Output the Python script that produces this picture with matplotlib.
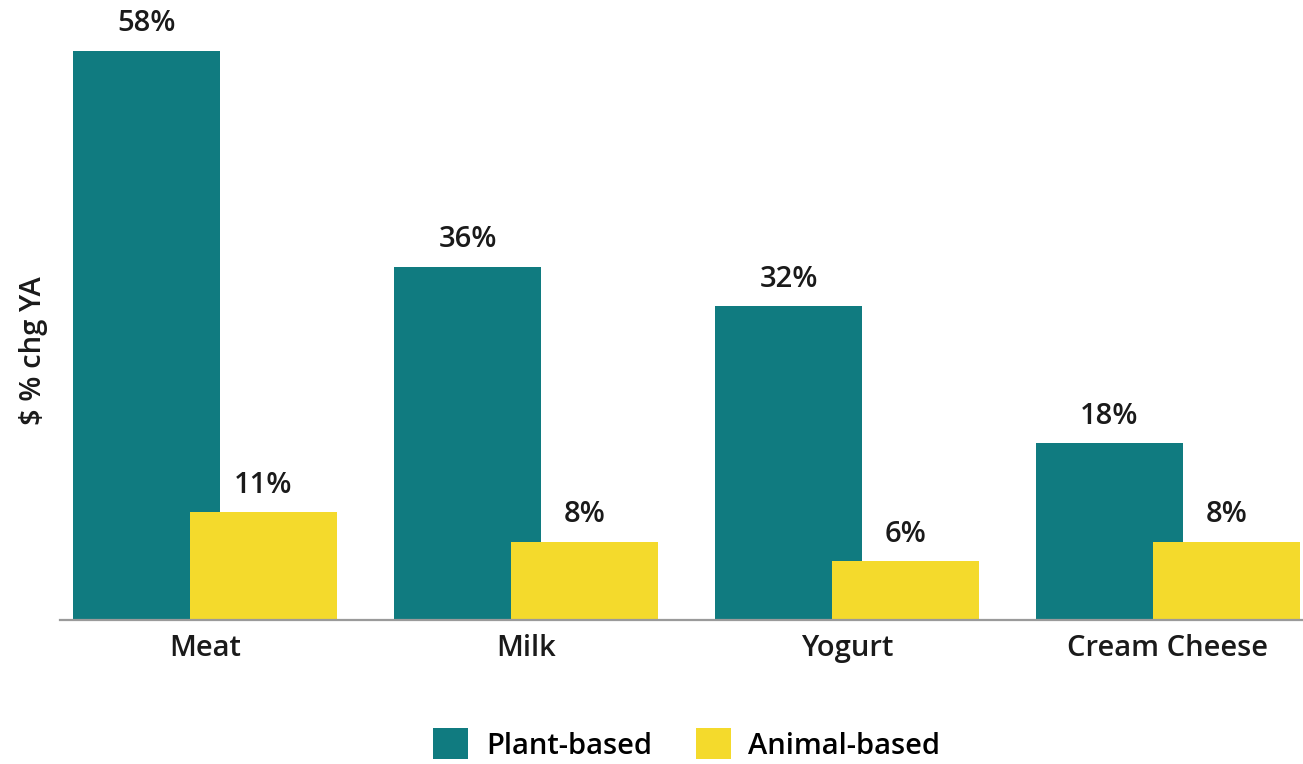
import matplotlib.pyplot as plt
import numpy as np

categories = ['Meat', 'Milk', 'Yogurt', 'Cream Cheese']
plant_based = [58, 36, 32, 18]
animal_based = [11, 8, 6, 8]

plt.rcParams['font.family'] = ['Open Sans', 'DejaVu Sans']

teal = '#107B80'
yellow = '#F4DA2C'
text_color = '#1a1a1a'
fs = 21
fw = 'semibold'

fig = plt.figure(figsize=(13.03, 7.64), dpi=100)
ax = fig.add_axes([0.046, 0.1885, 0.954, 0.80])

x = np.arange(len(categories))
width = 0.458
offset = 0.182

bars_p = ax.bar(x - offset, plant_based, width, color=teal, label='Plant-based', zorder=2)
bars_a = ax.bar(x + offset, animal_based, width, color=yellow, label='Animal-based', zorder=3)

for bars, vals in [(bars_p, plant_based), (bars_a, animal_based)]:
    for b, v in zip(bars, vals):
        ax.annotate(f'{v}%', (b.get_x() + b.get_width() / 2, v),
                    xytext=(0, 9), textcoords='offset points',
                    ha='center', va='bottom', fontsize=fs, fontweight=fw,
                    color=text_color, annotation_clip=False)

ax.set_xlim(-0.452, 3.421)
ax.set_ylim(0, 62.3)

ax.set_xticks(x)
ax.set_xticklabels(categories, fontsize=fs, fontweight=fw, color=text_color)
ax.tick_params(axis='x', length=0, pad=10)
ax.set_yticks([])

for side in ['top', 'right', 'left']:
    ax.spines[side].set_visible(False)
ax.spines['bottom'].set_color('#9a9a9a')
ax.spines['bottom'].set_linewidth(1.6)
ax.spines['bottom'].set_zorder(4)

ax.set_ylabel('$ % chg YA', fontsize=fs, fontweight=fw, color=text_color)
ax.yaxis.set_label_coords(-0.0097, 0.44)

fig.legend(handles=[bars_p, bars_a], loc='lower center', ncol=2,
           bbox_to_anchor=(0.527, -0.03), frameon=False,
           prop={'size': fs, 'weight': fw},
           handlelength=1.2, handleheight=1.25, handletextpad=0.6,
           columnspacing=1.5)

fig.savefig('out.png', dpi=100)
